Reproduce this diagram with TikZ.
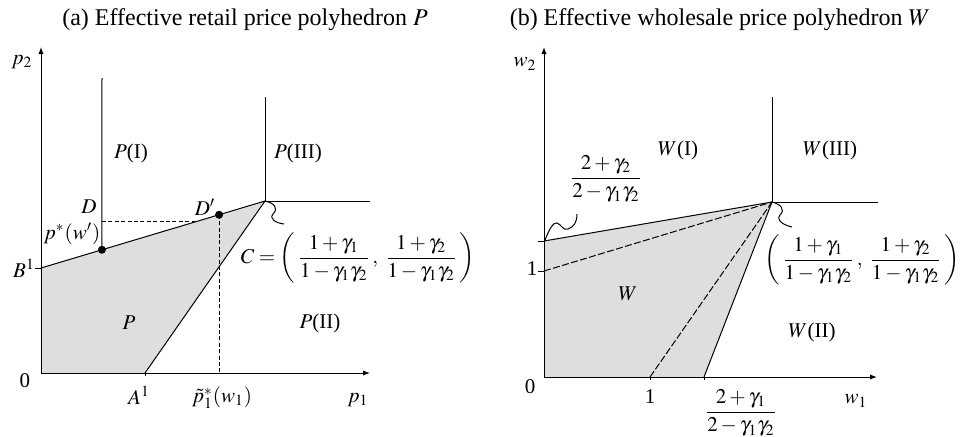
\documentclass[tikz,border=0pt]{standalone}
\usepackage{mathptmx}
\usepackage{fontspec}
\setmainfont{Liberation Serif}
\usetikzlibrary{arrows.meta, positioning, calc}

\begin{document}
\begin{tikzpicture}[
    x=0.5pt, y=-0.5pt,
    >={Latex[length=3.5pt,width=2.6pt]},
    % --- line styles ---
    axis/.style={->, line width=0.5pt},
    edge/.style={line width=0.5pt},
    guide/.style={line width=0.5pt, dash pattern=on 2pt off 1.2pt},
    ray/.style={line width=0.5pt, dash pattern=on 3.5pt off 1.2pt},
    region/.style={fill=black!13, draw=none},
    % --- text styles ---
    lbl/.style={font=\fontsize{10.5}{12}\selectfont, inner sep=0pt},
    ttl/.style={font=\fontsize{12}{14}\selectfont, inner sep=0pt},
    dot/.style={circle, fill=black, inner sep=0pt, minimum size=4pt},
]
\useasboundingbox (0,0) rectangle (965,436);

% ---- (a) Retail price polyhedron ----
\coordinate (Oa) at (41,373);
\coordinate (Ya) at (41,47);
\coordinate (Xa) at (370,373);
\coordinate (B1) at (41,268);
\coordinate (C1) at (265,201);
\coordinate (A1) at (145,373);
\coordinate (Dtop) at (102,78);
\coordinate (IIItop) at (265,97);
\coordinate (Hend) at (370,201);
\coordinate (Pw) at ($(B1)!0.272!(C1)$);
\coordinate (Dp) at ($(B1)!0.795!(C1)$);
\coordinate (Dm) at ($(B1)!0.688!(C1)$);

\fill[region] (Oa) -- (A1) -- (C1) -- (B1) -- cycle;
\draw[axis] (Oa) -- (Ya);
\draw[axis] (Oa) -- (Xa);
\draw[edge] (B1) -- (C1) -- (A1);
\draw[edge] (Dtop) -- (Pw);
\draw[edge] (IIItop) -- (C1) -- (Hend);
\draw[edge] (B1) -- ++(-6,0);
\draw[edge] (A1) -- ++(0,3);
\draw[guide] (Pw |- Dm) -- (Dm);
\draw[guide] (Dp) -- (Dp |- Oa);
\draw[edge] (C1) .. controls (274,203) and (279,208) .. (273,214)
    .. controls (269,219) and (276,223) .. (284,224);
\node[dot] (dotPw) at (Pw) {};
\node[dot] (dotDp) at (Dp) {};

\node[ttl] (ttla) at (245,20) {(a) Effective retail price polyhedron $P$};
\node[lbl] (p2) at (22,62) {$p_2$};
\node[lbl] (PI) at (131,153) {$P$(I)};
\node[lbl] (PIII) at (298,153) {$P$(III)};
\node[lbl] (Dl) at (89,207) {$D$};
\node[lbl] (Dpl) at (205,207) {$D'$};
\node[lbl] (pw) at (72,234) {$p^{*}(w')$};
\node[lbl] (B1l) at (24,268) {$B^1$};
\node[lbl] (Cl) at (358,258) {$C=\displaystyle\left(\,\frac{1+\gamma_1}{1-\gamma_1\gamma_2}\,,\;\frac{1+\gamma_2}{1-\gamma_1\gamma_2}\,\right)$};
\node[lbl] (Pl) at (129,323) {$P$};
\node[lbl] (PII) at (320,323) {$P$(II)};
\node[lbl] (Ol) at (25,381) {0};
\node[lbl] (A1l) at (139,395) {$A^1$};
\node[lbl] (pt) at (222,398) {$\tilde{p}_1^{*}(w_1)$};
\node[lbl] (p1) at (358,400) {$p_1$};

% ---- (b) Wholesale price polyhedron ----
\coordinate (Ob) at (544,377);
\coordinate (Yb) at (544,47);
\coordinate (Xb) at (877,377);
\coordinate (K) at (772,202);
\coordinate (Ktop) at (772,97);
\coordinate (Kend) at (878,202);
\coordinate (U) at (544,241);
\coordinate (Uone) at (544,271);
\coordinate (Rone) at (650,377);
\coordinate (R) at (704,377);

\fill[region] (Ob) -- (R) -- (K) -- (U) -- cycle;
\draw[axis] (Ob) -- (Yb);
\draw[axis] (Ob) -- (Xb);
\draw[edge] (U) -- (K) -- (R);
\draw[ray] (Uone) -- (K);
\draw[ray] (Rone) -- (K);
\draw[edge] (Ktop) -- (K) -- (Kend);
\foreach \c in {U, Uone}
    \draw[edge] (\c) -- ++(-6,0);
\foreach \c in {Rone, R}
    \draw[edge] (\c) -- ++(0,3);
\draw[edge] (545,240) .. controls (549,230) and (553,222) .. (557,223)
    .. controls (561,224) and (563,231) .. (568,229)
    .. controls (574,227) and (577,222) .. (577,214);
\draw[edge] (K) .. controls (780,204) and (786,209) .. (780,215)
    .. controls (776,220) and (783,225) .. (792,227);

\node[ttl] (ttlb) at (720,20) {(b) Effective wholesale price polyhedron $W$};
\node[lbl] (w2) at (525,64) {$w_2$};
\node[lbl] (WI) at (678,150) {$W$(I)};
\node[lbl] (WIII) at (830,150) {$W$(III)};
\node[lbl] (fu) at (606,179) {$\displaystyle\frac{2+\gamma_2}{2-\gamma_1\gamma_2}$};
\node[lbl] (onel) at (532,269) {1};
\node[lbl] (Wl) at (628,294) {$W$};
\node[lbl] (WII) at (812,332) {$W$(II)};
\node[lbl] (Kl) at (862,260) {$\displaystyle\left(\,\frac{1+\gamma_1}{1-\gamma_1\gamma_2}\,,\;\frac{1+\gamma_2}{1-\gamma_1\gamma_2}\,\right)$};
\node[lbl] (Obl) at (530,387) {0};
\node[lbl] (onex) at (650,397) {1};
\node[lbl] (fr) at (741,413) {$\displaystyle\frac{2+\gamma_1}{2-\gamma_1\gamma_2}$};
\node[lbl] (w1) at (856,401) {$w_1$};

\end{tikzpicture}
\end{document}
